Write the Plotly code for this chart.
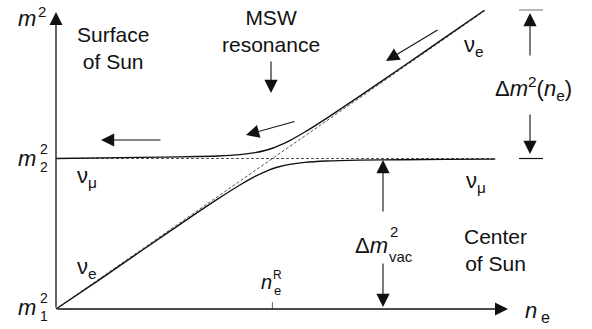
import plotly.graph_objects as go

# ---- data (units: m1^2 = 0, m2^2 = 1, resonance density n_e^R = 1)
m1_sq = 0.0
m2_sq = 1.0
n_e_res = 1.0

# upper mass eigenstate branch (nu_mu at surface -> nu_e in the core)
n_e_upper = [0.0, 0.3, 0.5, 0.65, 0.75, 0.85, 0.92, 0.97, 1.0, 1.03, 1.08, 1.15, 1.25, 1.4, 1.6, 1.8, 1.98]
m_sq_upper = [1.0, 1.006, 1.009, 1.013, 1.017, 1.026, 1.039, 1.055, 1.068, 1.085, 1.119, 1.176, 1.267, 1.411, 1.608, 1.806, 1.985]

# lower mass eigenstate branch
n_e_lower = [0.0, 0.2, 0.4, 0.6, 0.75, 0.85, 0.92, 0.97, 1.0, 1.03, 1.08, 1.15, 1.25, 1.4, 1.6, 1.8, 2.03]
m_sq_lower = [0.0, 0.194, 0.392, 0.589, 0.733, 0.824, 0.881, 0.915, 0.932, 0.945, 0.961, 0.974, 0.983, 0.989, 0.992, 0.994, 0.996]

# unmixed (flavour) levels
n_e_diag = [0.0, 1.98]
m_sq_diag = [0.0, 1.98]
n_e_flat = [0.0, 2.03]
m_sq_flat = [m2_sq, m2_sq]

# ---- pixel mapping helpers for layout (x unit = 216.4 px, y unit = 150.5 px)
X0, XU = 56.0, 216.4
Y0, YU = 309.0, 150.5
def px(x):
    return (x - X0) / XU
def py(y):
    return (Y0 - y) / YU

fig = go.Figure()
fig.add_trace(go.Scatter(x=n_e_diag, y=m_sq_diag, mode="lines",
                         line=dict(color="#555", width=1, dash="3px,2px"), hoverinfo="skip"))
fig.add_trace(go.Scatter(x=n_e_flat, y=m_sq_flat, mode="lines",
                         line=dict(color="#555", width=1, dash="3px,2px"), hoverinfo="skip"))
fig.add_trace(go.Scatter(x=n_e_upper, y=m_sq_upper, mode="lines",
                         line=dict(color="#111", width=1.4, shape="spline", smoothing=0.8), hoverinfo="skip"))
fig.add_trace(go.Scatter(x=n_e_lower, y=m_sq_lower, mode="lines",
                         line=dict(color="#111", width=1.4, shape="spline", smoothing=0.8), hoverinfo="skip"))

ann = []
def arrow(tail, tip, size=2.4, width=1.1):
    ann.append(dict(x=px(tip[0]), y=py(tip[1]), ax=px(tail[0]), ay=py(tail[1]),
                    xref="x", yref="y", axref="x", ayref="y", text="", showarrow=True,
                    arrowhead=2, arrowsize=size, arrowwidth=width, arrowcolor="#111", standoff=0))

# axes
arrow((56, 309), (56, 12), width=1.3, size=2.0)
arrow((56, 309), (508, 309), width=1.3, size=2.0)
# motion arrows
arrow((439, 29), (386, 61))
arrow((296, 121), (246, 135))
arrow((162, 140), (101, 140))
arrow((271, 60), (271, 93))
# delta m^2 (n_e)
arrow((530, 57), (530, 13))
arrow((530, 113), (530, 154))
# delta m^2 vac
arrow((383, 213), (383, 160))
arrow((383, 262), (383, 307))

FONT = "Liberation Sans, Arial, sans-serif"
def text(t, x, y, size=21, xanchor="center", yanchor="middle", align="center"):
    ann.append(dict(x=px(x), y=py(y), xref="x", yref="y", text=t, showarrow=False,
                    font=dict(family=FONT, size=size, color="#111"),
                    xanchor=xanchor, yanchor=yanchor, align=align))

text("<i>m</i>", 27, 18, size=22)
text("2", 42, 11, size=15)
text("Surface<br>of Sun", 113, 48)
text("MSW<br>resonance", 271, 31)
text("ν<sub>e</sub>", 474, 46, size=22)
text("Δ<i>m</i><sup>2</sup>(<i>n</i><sub>e</sub>)", 533, 88, size=22)
text("ν<sub>μ</sub>", 87, 177, size=22)
text("ν<sub>μ</sub>", 476, 182, size=22)
text("ν<sub>e</sub>", 87, 268, size=22)
# m2^2
text("<i>m</i>", 27, 158, size=22)
text("2", 44, 149, size=14)
text("2", 44, 167, size=14)
# m1^2
text("<i>m</i>", 27, 307, size=22)
text("2", 44, 298, size=14)
text("1", 44, 316, size=14)
# n_e^R
text("<i>n</i>", 266, 282, size=20)
text("R", 277, 275, size=12)
text("e", 277, 290, size=13)
# n_e axis label
text("<i>n</i>", 531, 310, size=22)
text("e", 545, 317, size=16)
# delta m^2 vac
text("Δ<i>m</i>", 371, 245, size=22)
text("2", 394, 231, size=15)
text("vac", 401, 256, size=15)
text("Center<br>of Sun", 495, 250)

shapes = [
    dict(type="line", xref="x", yref="y", x0=n_e_res, x1=n_e_res, y0=m1_sq, y1=py(302),
         line=dict(color="#666", width=1)),
    dict(type="line", xref="x", yref="y", x0=px(519), x1=px(543), y0=py(10), y1=py(10),
         line=dict(color="#888", width=1.2)),
    dict(type="line", xref="x", yref="y", x0=px(519), x1=px(543), y0=m2_sq, y1=m2_sq,
         line=dict(color="#111", width=1.2)),
]

fig.update_layout(
    width=592, height=329, margin=dict(l=0, r=0, t=0, b=0),
    plot_bgcolor="white", paper_bgcolor="white", showlegend=False,
    xaxis=dict(range=[px(0), px(592)], visible=False, fixedrange=True),
    yaxis=dict(range=[py(329), py(0)], visible=False, fixedrange=True),
    annotations=ann, shapes=shapes,
)
fig.write_html("out.html")
